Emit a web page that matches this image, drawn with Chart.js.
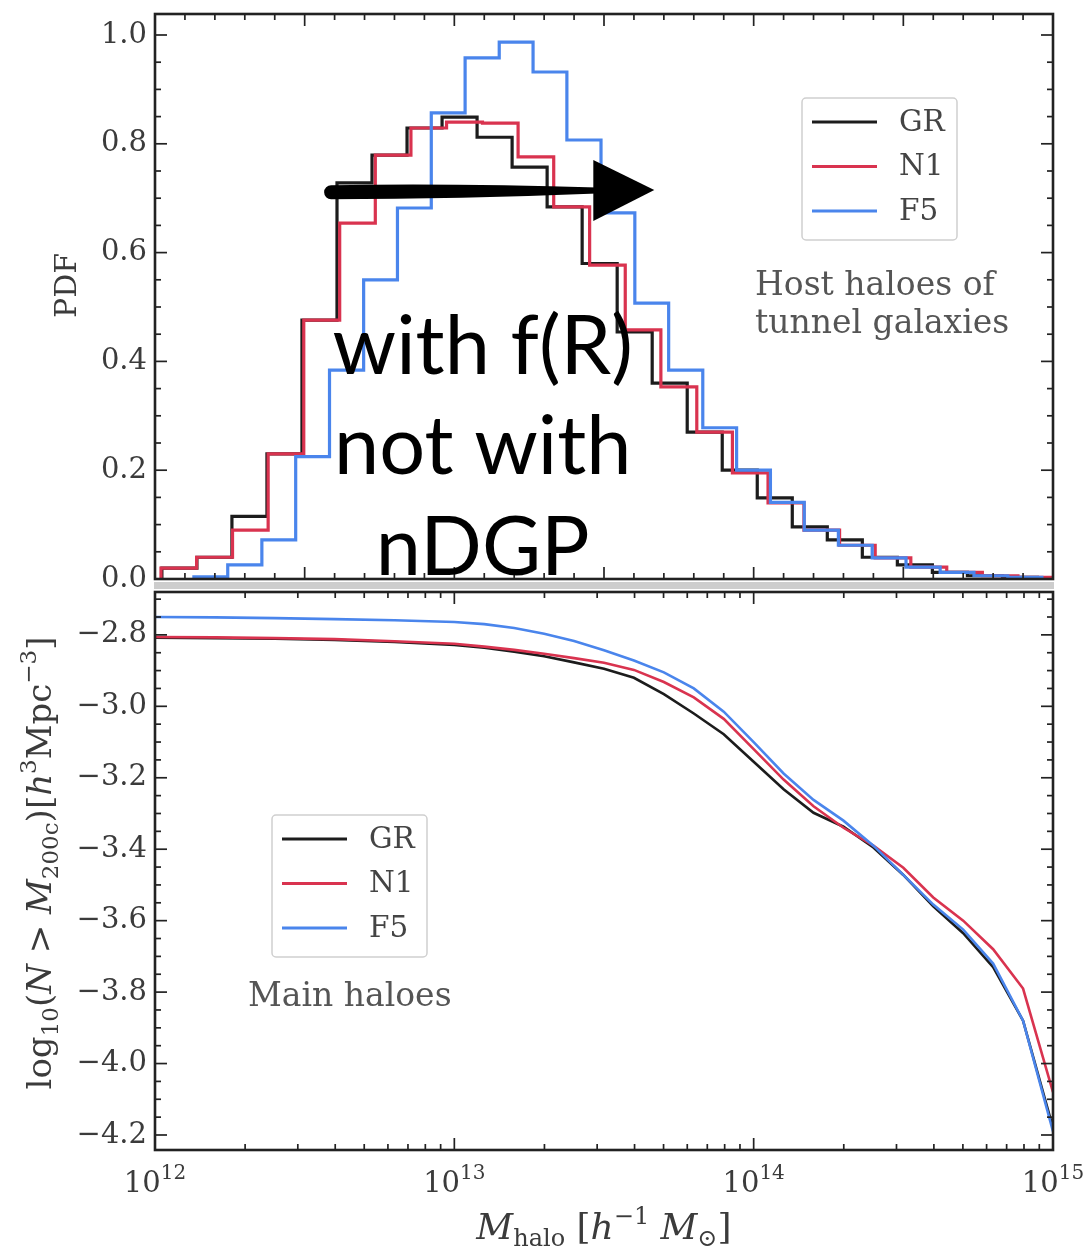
<!DOCTYPE html>
<html>
<head>
<meta charset="utf-8">
<title>Halo mass distributions: GR, N1, F5</title>
<script src="https://cdn.jsdelivr.net/npm/chart.js@4.4.1/dist/chart.umd.min.js"></script>
<style>
  html, body { margin: 0; padding: 0; background: #ffffff; }
  #stage { position: relative; width: 1090px; height: 1249px; overflow: hidden; background: #ffffff; }
  #stage canvas { position: absolute; left: 0; top: 0; }
</style>
</head>
<body>
<div id="stage">
  <canvas id="massFunction" width="1090" height="1249"></canvas>
  <canvas id="hostPdf" width="1090" height="1249"></canvas>
</div>
<script>
// ---------------------------------------------------------------
// Data
// ---------------------------------------------------------------
const seriesNames  = ['GR', 'N1', 'F5'];
const seriesColors = ['#1c1c1c', '#d9334f', '#4a85ec'];

// Host haloes of tunnel galaxies: histogram bin edges in log10(M / h^-1 Msun) and PDF per bin
const grEdges = [12.023, 12.140, 12.257, 12.374, 12.491, 12.608, 12.725, 12.842, 12.959, 13.076,
                 13.193, 13.310, 13.427, 13.544, 13.661, 13.778, 13.895, 14.012, 14.129, 14.246,
                 14.363, 14.480, 14.597, 14.714, 14.831, 14.948];
const grPdf   = [0.020, 0.040, 0.115, 0.230, 0.476, 0.728, 0.779, 0.829, 0.849, 0.812,
                 0.757, 0.684, 0.580, 0.454, 0.360, 0.270, 0.200, 0.149, 0.096, 0.072,
                 0.040, 0.026, 0.012, 0.006, 0.003];

const n1Edges = [12.020, 12.139, 12.259, 12.378, 12.497, 12.617, 12.736, 12.855, 12.974, 13.094,
                 13.213, 13.332, 13.452, 13.571, 13.690, 13.810, 13.929, 14.048, 14.168, 14.287,
                 14.406, 14.525, 14.645, 14.764, 14.883, 15.000];
const n1Pdf   = [0.020, 0.040, 0.090, 0.230, 0.476, 0.654, 0.779, 0.829, 0.840, 0.838,
                 0.776, 0.684, 0.577, 0.458, 0.353, 0.270, 0.195, 0.140, 0.090, 0.062,
                 0.039, 0.022, 0.012, 0.006, 0.003];

const f5Edges = [12.130, 12.243, 12.357, 12.470, 12.583, 12.697, 12.810, 12.923, 13.036, 13.150,
                 13.263, 13.376, 13.490, 13.603, 13.716, 13.830, 13.943, 14.056, 14.169, 14.283,
                 14.396, 14.509, 14.623, 14.736, 14.849, 14.963];
const f5Pdf   = [0.004, 0.026, 0.072, 0.225, 0.384, 0.550, 0.682, 0.857, 0.958, 0.987,
                 0.932, 0.807, 0.673, 0.507, 0.384, 0.278, 0.200, 0.141, 0.090, 0.062,
                 0.039, 0.022, 0.012, 0.006, 0.003];

// Main haloes: cumulative abundance log10 n(>M200c) [h^3 Mpc^-3]
const cumLogMass = [12.0, 12.2, 12.4, 12.6, 12.8, 13.0, 13.1, 13.2, 13.3, 13.4,
                    13.5, 13.6, 13.7, 13.8, 13.9, 14.0, 14.1, 14.2, 14.3, 14.4,
                    14.5, 14.6, 14.7, 14.8, 14.9, 15.0];
const grCum = [-2.808, -2.809, -2.811, -2.814, -2.820, -2.828, -2.836, -2.847, -2.860, -2.877,
               -2.895, -2.920, -2.966, -3.020, -3.078, -3.155, -3.232, -3.298, -3.337, -3.395,
               -3.472, -3.560, -3.635, -3.730, -3.880, -4.180];
const n1Cum = [-2.806, -2.807, -2.809, -2.812, -2.818, -2.825, -2.833, -2.842, -2.853, -2.865,
               -2.878, -2.898, -2.932, -2.975, -3.035, -3.120, -3.205, -3.280, -3.340, -3.390,
               -3.452, -3.535, -3.600, -3.680, -3.790, -4.080];
const f5Cum = [-2.750, -2.751, -2.753, -2.756, -2.759, -2.764, -2.770, -2.781, -2.797, -2.817,
               -2.843, -2.872, -2.905, -2.950, -3.015, -3.100, -3.188, -3.262, -3.320, -3.390,
               -3.472, -3.555, -3.625, -3.720, -3.880, -4.190];

// Tick labels
const pdfTicks    = [0.0, 0.2, 0.4, 0.6, 0.8, 1.0];
const cumTicks    = [-2.8, -3.0, -3.2, -3.4, -3.6, -3.8, -4.0, -4.2];
const massDecades = [12, 13, 14, 15];

// Annotation on the upper panel
const noteLines = ['with f(R)', 'not with', 'nDGP'];
const arrowTail = [12.565, 0.711];
const arrowTip  = [13.668, 0.715];

// ---------------------------------------------------------------
// Styling helpers
// ---------------------------------------------------------------
const SERIF = '"DejaVu Serif", "Liberation Serif", serif';
const INK = '#3b3b3b';
const TEXT_GREY = '#555555';

function f(size, style) { return (style ? style + ' ' : '') + size + 'px ' + SERIF; }

function runsWidth(ctx, runs) {
  let w = 0;
  for (const r of runs) { ctx.font = r.font; w += ctx.measureText(r.t).width; }
  return w;
}
function drawRuns(ctx, runs, x, y) {
  let cx = x;
  for (const r of runs) {
    ctx.font = r.font;
    ctx.fillText(r.t, cx, y + (r.dy || 0));
    cx += ctx.measureText(r.t).width;
  }
}

// step outline of a histogram, closed down to zero at both ends
function stepOutline(edges, heights) {
  const pts = [{ x: edges[0], y: 0 }];
  heights.forEach((h, i) => pts.push({ x: edges[i], y: h }));
  pts.push({ x: edges[edges.length - 1], y: heights[heights.length - 1] });
  pts.push({ x: edges[edges.length - 1], y: 0 });
  return pts;
}

function drawFrame(chart, xMajor, xMinor, yMajor, yMinor) {
  const { ctx, chartArea: a, scales: { x, y } } = chart;
  ctx.save();
  ctx.strokeStyle = '#222222';
  ctx.lineWidth = 1.7;
  const seg = (px, py, dx, dy) => { ctx.beginPath(); ctx.moveTo(px, py); ctx.lineTo(px + dx, py + dy); ctx.stroke(); };
  xMinor.forEach(v => { const p = x.getPixelForValue(v); seg(p, a.top, 0, 6); seg(p, a.bottom, 0, -6); });
  xMajor.forEach(v => { const p = x.getPixelForValue(v); seg(p, a.top, 0, 12); seg(p, a.bottom, 0, -12); });
  yMinor.forEach(v => { const p = y.getPixelForValue(v); seg(a.left, p, 6, 0); seg(a.right, p, -6, 0); });
  yMajor.forEach(v => { const p = y.getPixelForValue(v); seg(a.left, p, 12, 0); seg(a.right, p, -12, 0); });
  ctx.lineWidth = 2.6;
  ctx.strokeRect(a.left, a.top, a.right - a.left, a.bottom - a.top);
  ctx.restore();
}

function drawLegend(chart, bx, by) {
  const { ctx } = chart;
  const w = 155, h = 142;
  ctx.save();
  ctx.beginPath();
  ctx.roundRect(bx, by, w, h, 4);
  ctx.fillStyle = 'rgba(255,255,255,0.85)';
  ctx.fill();
  ctx.strokeStyle = '#cfcfcf';
  ctx.lineWidth = 1.5;
  ctx.stroke();
  chart.data.datasets.forEach((ds, i) => {
    const ry = by + 24 + i * 44.5;
    ctx.strokeStyle = ds.borderColor;
    ctx.lineWidth = 3;
    ctx.beginPath(); ctx.moveTo(bx + 10, ry); ctx.lineTo(bx + 75, ry); ctx.stroke();
    ctx.fillStyle = '#444444';
    ctx.font = f(29.5);
    ctx.textBaseline = 'middle';
    ctx.fillText(ds.label, bx + 97, ry + 1);
  });
  ctx.restore();
}

function lineDataset(i, data, width, extra) {
  return Object.assign({
    label: seriesNames[i],
    data: data,
    borderColor: seriesColors[i],
    backgroundColor: seriesColors[i],
    borderWidth: width,
    pointRadius: 0,
    fill: false,
    tension: 0,
    order: 2 - i
  }, extra || {});
}

const commonYTicks = { font: { family: SERIF, size: 29 }, color: INK, padding: 8 };

// fixed-width left axis with no extra label padding above/below the plot
function fixLeftAxis(s) { s.width = 155; s.paddingTop = 0; s.paddingBottom = 0; }
function flatAxis(s) { s.height = 0; s.paddingLeft = 0; s.paddingRight = 0; }

// ---------------------------------------------------------------
// Upper panel: PDF of host-halo mass
// ---------------------------------------------------------------
const pdfMajorX = [], pdfMinorX = [], pdfMajorY = [], pdfMinorY = [];
for (let i = 0; i <= 30; i++) (i % 5 === 0 ? pdfMajorX : pdfMinorX).push(12 + i / 10);
for (let i = 0; i <= 20; i++) (i % 4 === 0 ? pdfMajorY : pdfMinorY).push(i * 0.05);

const upperDecor = {
  id: 'upperDecor',
  afterDraw(chart) {
    const { ctx, chartArea: a, scales: { x, y } } = chart;

    // thin grey strip where the two panels meet
    ctx.save();
    ctx.fillStyle = '#cdcdcd';
    ctx.fillRect(a.left - 1, a.bottom + 3, a.right - a.left + 2, 7);
    ctx.restore();

    drawFrame(chart, pdfMajorX, pdfMinorX, pdfMajorY, pdfMinorY);
    drawLegend(chart, a.right - 251, a.top + 84);

    ctx.save();
    ctx.fillStyle = TEXT_GREY;
    ctx.font = f(33);
    ctx.textBaseline = 'alphabetic';
    ctx.fillText('Host haloes of', a.right - 298, a.top + 281);
    ctx.fillText('tunnel galaxies', a.right - 298, a.top + 319);

    // y axis title
    ctx.translate(76, (a.top + a.bottom) / 2 - 11);
    ctx.rotate(-Math.PI / 2);
    ctx.fillStyle = INK;
    ctx.font = f(30);
    ctx.textAlign = 'center';
    ctx.fillText('PDF', 0, 0);
    ctx.restore();

    // arrow
    ctx.save();
    ctx.fillStyle = '#000000';
    const tx = x.getPixelForValue(arrowTail[0]), ty = y.getPixelForValue(arrowTail[1]);
    const hx = x.getPixelForValue(arrowTip[0]),  hy = y.getPixelForValue(arrowTip[1]);
    const baseX = hx - 61;
    const midX = (tx + baseX) / 2;
    ctx.beginPath();
    ctx.moveTo(tx + 7, ty - 7);
    ctx.quadraticCurveTo(midX, ty - 9, baseX + 4, hy - 2.5);
    ctx.lineTo(baseX + 4, hy + 3.5);
    ctx.quadraticCurveTo(midX, ty + 7, tx + 7, ty + 7);
    ctx.arc(tx + 7, ty, 7, Math.PI / 2, 3 * Math.PI / 2);
    ctx.closePath();
    ctx.fill();
    ctx.beginPath();
    ctx.moveTo(baseX, hy - 30);
    ctx.lineTo(hx, hy);
    ctx.lineTo(baseX, hy + 31);
    ctx.closePath();
    ctx.fill();

    // overlaid statement
    ctx.font = '81px Lato, "Open Sans", sans-serif';
    ctx.textAlign = 'center';
    ctx.textBaseline = 'alphabetic';
    const cx = x.getPixelForValue(13.095);
    const by = y.getPixelForValue(0.377);
    noteLines.forEach((t, i) => ctx.fillText(t, cx, by + i * 100.5));
    ctx.restore();
  }
};

new Chart(document.getElementById('hostPdf'), {
  type: 'line',
  data: {
    datasets: [
      lineDataset(0, stepOutline(grEdges, grPdf), 3.2, { stepped: 'before', borderJoinStyle: 'miter' }),
      lineDataset(1, stepOutline(n1Edges, n1Pdf), 3.2, { stepped: 'before', borderJoinStyle: 'miter' }),
      lineDataset(2, stepOutline(f5Edges, f5Pdf), 3.2, { stepped: 'before', borderJoinStyle: 'miter' })
    ]
  },
  options: {
    responsive: false,
    animation: false,
    events: [],
    layout: { padding: { top: 14, right: 37, bottom: 1249 - 579, left: 0 } },
    plugins: { legend: { display: false }, tooltip: { enabled: false } },
    scales: {
      x: {
        type: 'linear', min: 12, max: 15,
        ticks: { display: false },
        grid: { display: false, drawTicks: false },
        border: { display: false },
        afterFit: flatAxis
      },
      y: {
        min: 0, max: 1.0386,
        afterFit: fixLeftAxis,
        afterBuildTicks(s) { s.ticks = pdfTicks.map(v => ({ value: v })); },
        ticks: Object.assign({ callback: v => v.toFixed(1) }, commonYTicks),
        grid: { display: false, drawTicks: false },
        border: { display: false }
      }
    }
  },
  plugins: [upperDecor]
});

// ---------------------------------------------------------------
// Lower panel: cumulative abundance of main haloes
// ---------------------------------------------------------------
const cumMajorX = massDecades.map(d => Math.pow(10, d));
const cumMinorX = [];
for (let d = 12; d < 15; d++) for (let k = 2; k <= 9; k++) cumMinorX.push(k * Math.pow(10, d));
const cumMajorY = [], cumMinorY = [];
for (let i = 54; i <= 84; i++) (i % 4 === 0 ? cumMajorY : cumMinorY).push(-i * 0.05);

const lowerDecor = {
  id: 'lowerDecor',
  afterDraw(chart) {
    const { ctx, chartArea: a, scales: { x } } = chart;
    drawFrame(chart, cumMajorX, cumMinorX, cumMajorY, cumMinorY);
    drawLegend(chart, a.left + 117, a.top + 223);

    ctx.save();
    ctx.fillStyle = TEXT_GREY;
    ctx.font = f(33);
    ctx.textBaseline = 'alphabetic';
    ctx.fillText('Main haloes', a.left + 93, a.top + 414);

    // decade labels
    ctx.fillStyle = INK;
    massDecades.forEach(d => {
      const runs = [{ t: '10', font: f(29) }, { t: String(d), font: f(20), dy: -13 }];
      const w = runsWidth(ctx, runs);
      drawRuns(ctx, runs, x.getPixelForValue(Math.pow(10, d)) - w / 2, a.bottom + 42);
    });

    // x axis title
    const xt = [
      { t: 'M', font: f(36, 'italic') },
      { t: 'halo', font: f(24), dy: 7 },
      { t: ' [', font: f(36) },
      { t: 'h', font: f(36, 'italic') },
      { t: '\u22121', font: f(24), dy: -15 },
      { t: ' ', font: f(36) },
      { t: 'M', font: f(36, 'italic') },
      { t: '\u2299', font: f(24), dy: 7 },
      { t: ']', font: f(36) }
    ];
    drawRuns(ctx, xt, (a.left + a.right) / 2 - runsWidth(ctx, xt) / 2, a.bottom + 89);

    // y axis title
    const yt = [
      { t: 'log', font: f(34) },
      { t: '10', font: f(23), dy: 7 },
      { t: '(', font: f(34) },
      { t: 'N', font: f(34, 'italic') },
      { t: ' > ', font: f(34) },
      { t: 'M', font: f(34, 'italic') },
      { t: '200c', font: f(23), dy: 7 },
      { t: ')[', font: f(34) },
      { t: 'h', font: f(34, 'italic') },
      { t: '3', font: f(23), dy: -15 },
      { t: 'Mpc', font: f(34) },
      { t: '\u22123', font: f(23), dy: -15 },
      { t: ']', font: f(34) }
    ];
    ctx.translate(51, (a.top + a.bottom) / 2 - 8);
    ctx.rotate(-Math.PI / 2);
    drawRuns(ctx, yt, -runsWidth(ctx, yt) / 2, 0);
    ctx.restore();
  }
};

const cumPoints = vals => cumLogMass.map((m, i) => ({ x: Math.pow(10, m), y: vals[i] }));

new Chart(document.getElementById('massFunction'), {
  type: 'line',
  data: {
    datasets: [
      lineDataset(0, cumPoints(grCum), 2.6),
      lineDataset(1, cumPoints(n1Cum), 2.6),
      lineDataset(2, cumPoints(f5Cum), 2.6)
    ]
  },
  options: {
    responsive: false,
    animation: false,
    events: [],
    layout: { padding: { top: 592, right: 37, bottom: 1249 - 1150, left: 0 } },
    plugins: { legend: { display: false }, tooltip: { enabled: false } },
    scales: {
      x: {
        type: 'logarithmic', min: 1e12, max: 1e15,
        ticks: { display: false },
        grid: { display: false, drawTicks: false },
        border: { display: false },
        afterFit: flatAxis
      },
      y: {
        min: -4.242, max: -2.680,
        afterFit: fixLeftAxis,
        afterBuildTicks(s) { s.ticks = cumTicks.map(v => ({ value: v })); },
        ticks: Object.assign({ callback: v => (v < 0 ? '\u2212' : '') + Math.abs(v).toFixed(1) }, commonYTicks),
        grid: { display: false, drawTicks: false },
        border: { display: false }
      }
    }
  },
  plugins: [lowerDecor]
});
</script>
</body>
</html>
